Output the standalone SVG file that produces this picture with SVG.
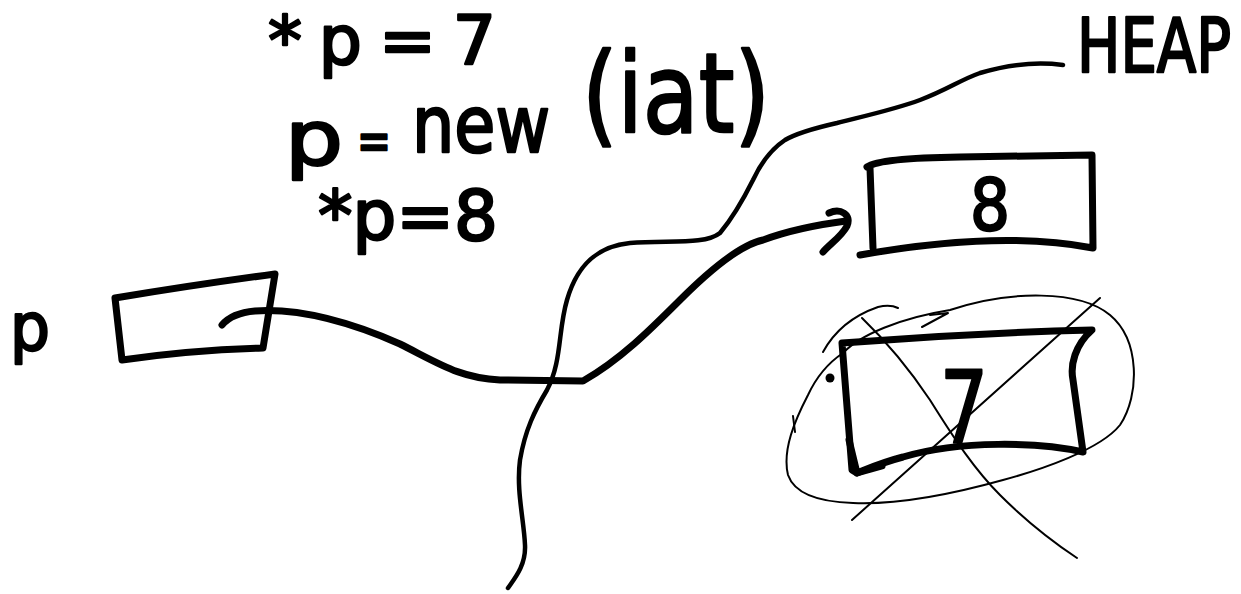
<svg xmlns="http://www.w3.org/2000/svg" width="1241" height="594" viewBox="0 0 1241 594">
<style>
.ink{fill:none;stroke:#000;stroke-linecap:round;stroke-linejoin:round}
.thick{stroke-width:7}
.mid{stroke-width:4.5}
.thin{stroke-width:2}
.hand{font-family:"DejaVu Sans",sans-serif;font-weight:normal;fill:#000;stroke:#000;stroke-width:2.5;stroke-linejoin:round;stroke-linecap:round}
</style>
<rect width="1241" height="594" fill="#fff"/>
<g id="code-notes">
<text class="hand" x="268" y="64" font-size="68" textLength="228" lengthAdjust="spacing">*p=7</text>
<text class="hand"><tspan x="285" y="164" font-size="74" textLength="58" lengthAdjust="spacingAndGlyphs">p</tspan> <tspan x="357" y="160" font-size="56" textLength="34" lengthAdjust="spacingAndGlyphs">=</tspan> <tspan x="412" y="152" font-size="78" textLength="138" lengthAdjust="spacingAndGlyphs">new</tspan> <tspan x="582" y="132" font-size="110" textLength="188" lengthAdjust="spacingAndGlyphs">(iat)</tspan></text>
<text class="hand" x="318" y="240" font-size="70" textLength="180" lengthAdjust="spacingAndGlyphs">*p=8</text>
</g>
<g id="heap-label">
<text class="hand" transform="translate(1077,72) scale(0.78,1)" x="0" y="0" font-size="74">HEAP</text>
</g>
<g id="heap-boundary">
<path class="ink mid" d="M1063,65 C1040,62 1010,64 980,73 C960,80 947,90 920,100 C893,110 860,117 837,123 C815,128 797,133 785,140 C770,150 760,165 753,180 C745,196 735,215 720,233 C705,245 670,240 630,243 C600,246 578,262 567,300 C558,330 562,362 547,390 C535,410 525,430 520,460 C516,490 524,520 525,545 C526,565 515,578 508,588"/>
</g>
<g id="node-p">
<text class="hand" x="10" y="350" font-size="66" textLength="40" lengthAdjust="spacingAndGlyphs">p</text>
<path class="ink thick" d="M115,298 Q200,284 275,274 L263,348 Q190,350 122,360 L115,298"/>
</g>
<g id="node-heap-8">
<path class="ink thick" d="M867,167 Q880,158 960,157 L1092,155 L1093,248 Q1000,230 860,255 M870,168 L873,248"/>
<text class="hand" x="970" y="230" font-size="72" textLength="40" lengthAdjust="spacingAndGlyphs">8</text>
</g>
<g id="node-heap-7">
<path class="ink thick" d="M842,343 Q967,333 1092,330 C1075,345 1070,365 1073,380 L1083,452 C1040,442 960,440 903,457 C880,463 865,470 857,473 L852,470 L842,343"/>
<path class="ink thick" d="M849,440 L857,473 L882,466"/>
<circle cx="830" cy="378" r="4.5" fill="#000"/>
<text class="hand" x="940" y="443" font-size="100" textLength="48" lengthAdjust="spacingAndGlyphs" stroke-width="4">7</text>
<path class="ink thin" d="M843,353 C860,335 900,318 950,310 C1010,290 1080,290 1110,315 C1140,340 1140,395 1120,425 C1100,450 1040,470 1003,480 C960,492 900,505 853,503 C820,502 795,495 788,475 C782,450 795,420 808,395 C815,380 825,365 843,353"/>
<path class="ink thin" d="M922,327 L948,313 L930,315"/>
<path class="ink thin" d="M793,416 L795,432"/>
<path class="ink thin" d="M823,352 C835,330 855,315 878,307 Q890,304 898,308"/>
<path class="ink thin" d="M1100,298 L852,520"/>
<path class="ink thin" d="M862,318 C890,345 910,370 930,400 C955,440 975,470 1000,495 C1025,520 1050,540 1077,558"/>
</g>
<g id="connectors">
<path class="ink thick" d="M222,325 Q232,313 255,311 C300,308 350,322 400,344 C440,364 460,378 500,380 L583,381 C620,360 650,330 680,300 C710,270 740,245 763,240 C790,230 815,225 846,221"/>
<path class="ink thick" d="M829,213 C840,208 852,214 847,226 C842,236 830,244 823,252"/>
</g>
</svg>
